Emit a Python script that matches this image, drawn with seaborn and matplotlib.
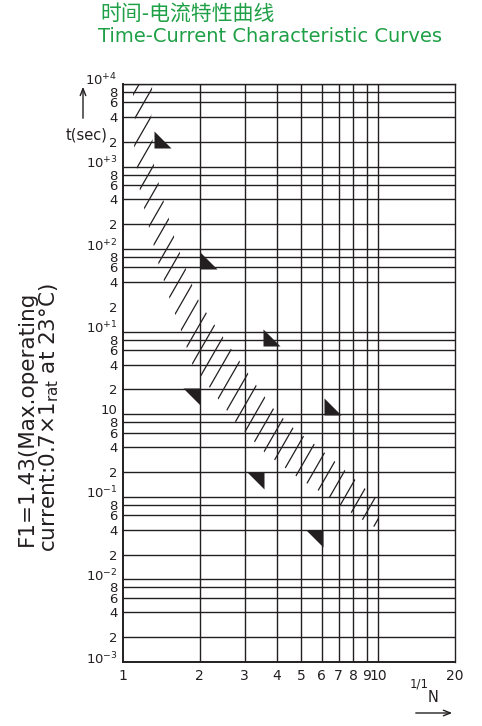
import seaborn as sns
import matplotlib.pyplot as plt
import matplotlib.transforms as mtransforms
from matplotlib.markers import MarkerStyle
from matplotlib.patches import Polygon
from matplotlib.collections import LineCollection
import numpy as np

# ---------------------------
# Data
# ---------------------------
x_ticks = [1, 2, 3, 4, 5, 6, 7, 8, 9, 10, 20]
x_labels = ["1", "2", "3", "4", "5", "6", "7", "8", "9", "10", "20"]
x_grid = [2, 3, 4, 5, 6, 7, 8, 9, 10]

decades = [1e4, 1e3, 1e2, 1e1, 1e0, 1e-1, 1e-2, 1e-3]
decade_labels = ["10$^{+4}$", "10$^{+3}$", "10$^{+2}$", "10$^{+1}$", "10",
                 "10$^{-1}$", "10$^{-2}$", "10$^{-3}$"]
minor_mult = [8, 6, 4, 2]
missing_grid = [20]  # no horizontal line drawn at 2x10^1 in the original

# band: upper/right edge (max trip) and lower/left edge (min trip)
right_x = [1.30, 1.30, 1.289, 1.324, 1.45, 1.602, 1.77, 1.99, 2.30, 2.69, 3.37,
           3.93, 4.75, 5.70, 6.90, 8.34, 10.0, 10.0]
right_t = [20000, 8225, 3875, 986, 361, 128, 55.6, 22.8, 11.7, 5.81, 2.12,
           1.12, 0.64, 0.42, 0.255, 0.150, 0.0908, 0.040]
left_x = [9.73, 8.12, 6.59, 4.84, 3.59, 2.786, 2.366, 1.869, 1.692, 1.517,
          1.386, 1.266, 1.167, 1.105, 1.115, 1.095, 1.09]
left_t = [0.0427, 0.0597, 0.0933, 0.172, 0.346, 0.778, 1.52, 4.04, 10.1, 26.2,
          62, 180, 491, 1722, 3565, 7360, 20000]

# triangle markers (right-angle corner position)
tri_up_x = [1.324, 2.0, 3.53, 6.13]
tri_up_t = [1675, 57.3, 6.67, 0.97]
tri_down_x = [2.0, 3.56, 6.07]
tri_down_t = [2.07, 0.198, 0.0393]

ink = "#231f20"
green = "#1fa046"

# ---------------------------
# Styling
# ---------------------------
sns.set_style("white")
plt.rcParams["font.family"] = ["DejaVu Sans"]

W, H = 482, 726
fig = plt.figure(figsize=(W / 100, H / 100), dpi=100)
ax = fig.add_axes([123 / W, 1 - 662 / H, 332 / W, 578 / H])
ax.set_xscale("log")
ax.set_yscale("log")
ax.set_xlim(1, 20)
ax.set_ylim(1e-3, 1e4)

# grid lines
y_grid = []
for d in decades[:-1]:
    y_grid.append(d)
    for m in minor_mult:
        v = round(m * d / 10, 6)
        if v not in missing_grid:
            y_grid.append(v)
ax.hlines(y_grid, 1, 20, colors=ink, linewidth=1.0, zorder=1)
ax.vlines(x_grid, 1e-3, 1e4, colors=ink, linewidth=1.0, zorder=1)

for s in ax.spines.values():
    s.set_color(ink)
    s.set_linewidth(1.0)
ax.spines["left"].set_linewidth(1.4)
ax.spines["bottom"].set_linewidth(1.4)

# hatched band
band = Polygon(list(zip(right_x, right_t)) + list(zip(left_x, left_t)),
               closed=True, transform=ax.transData, facecolor="none",
               edgecolor="none")
ax.add_patch(band)
ks = -0.951 + 0.046 * np.arange(-3, 40)
segs = [[(k - 0.2, -0.2), (k + 1.2, 1.2)] for k in ks]
hatch = LineCollection(segs, colors=ink, linewidths=0.9,
                       transform=ax.transAxes, zorder=2)
ax.add_collection(hatch)
hatch.set_clip_path(band)

# triangles
size = 600
sns.scatterplot(x=tri_up_x, y=tri_up_t, ax=ax, color=ink, linewidth=0,
                marker=MarkerStyle([(0, 0), (0, 1), (1, 0)]), s=size, zorder=3)
sns.scatterplot(x=tri_down_x, y=tri_down_t, ax=ax, color=ink, linewidth=0,
                marker=MarkerStyle([(0, 0), (-1, 0), (0, -1)]), s=size, zorder=3)

# ticks
ax.set_xticks(x_ticks)
ax.set_xticklabels(x_labels)
ax.xaxis.set_minor_locator(plt.NullLocator())
y_ticks, y_labels = [], []
for d, lab in zip(decades, decade_labels):
    y_ticks.append(d)
    y_labels.append(lab)
    if d > 1e-3:
        for m in minor_mult:
            y_ticks.append(m * d / 10)
            y_labels.append(str(m))
ax.set_yticks(y_ticks)
ax.set_yticklabels(y_labels)
ax.yaxis.set_minor_locator(plt.NullLocator())
ax.tick_params(axis="x", length=0, labelsize=10, colors=ink, pad=5)
ax.tick_params(axis="y", length=0, labelsize=9.5, colors=ink, pad=4)
for lbl, lab in zip(ax.get_yticklabels(), y_labels):
    if lab.startswith("10"):
        lbl.set_transform(lbl.get_transform() + mtransforms.ScaledTranslation(
            0, 5 / 100, fig.dpi_scale_trans))

# titles
fig.text(100 / W, 1 - 15 / H, "时间-电流特性曲线", color=green, fontsize=15,
         family=["Noto Sans CJK SC", "DejaVu Sans"], ha="left", va="center")
fig.text(98 / W, 1 - 37 / H, "Time-Current Characteristic Curves", color=green,
         fontsize=14, ha="left", va="center")

# axis annotations
fig.text(108 / W, 1 - 135 / H, "t(sec)", fontsize=10.5, color=ink,
         ha="right", va="center")
ax.annotate("", xy=(83 / W, 1 - 84 / H), xytext=(83 / W, 1 - 121 / H),
            xycoords="figure fraction", textcoords="figure fraction",
            arrowprops=dict(arrowstyle="->,head_length=0.5,head_width=0.2",
                            lw=1.0, color=ink))
fig.text(410 / W, 1 - 684 / H, "1/1", fontsize=8.5, color=ink,
         ha="left", va="center")
fig.text(428 / W, 1 - 698 / H, "N", fontsize=10.5, color=ink,
         ha="left", va="center")
ax.annotate("", xy=(455 / W, 1 - 713 / H), xytext=(413 / W, 1 - 713 / H),
            xycoords="figure fraction", textcoords="figure fraction",
            arrowprops=dict(arrowstyle="->,head_length=0.5,head_width=0.2",
                            lw=1.0, color=ink))

fig.text(39 / W, 1 - 418 / H,
         "F1=1.43(Max.operating\ncurrent:0.7×1$_{\\mathregular{rat}}$ at 23°C)",
         rotation=90, fontsize=15.5, color=ink, ha="center", va="center",
         multialignment="center", linespacing=1.0)

fig.savefig("out.png", dpi=100)
